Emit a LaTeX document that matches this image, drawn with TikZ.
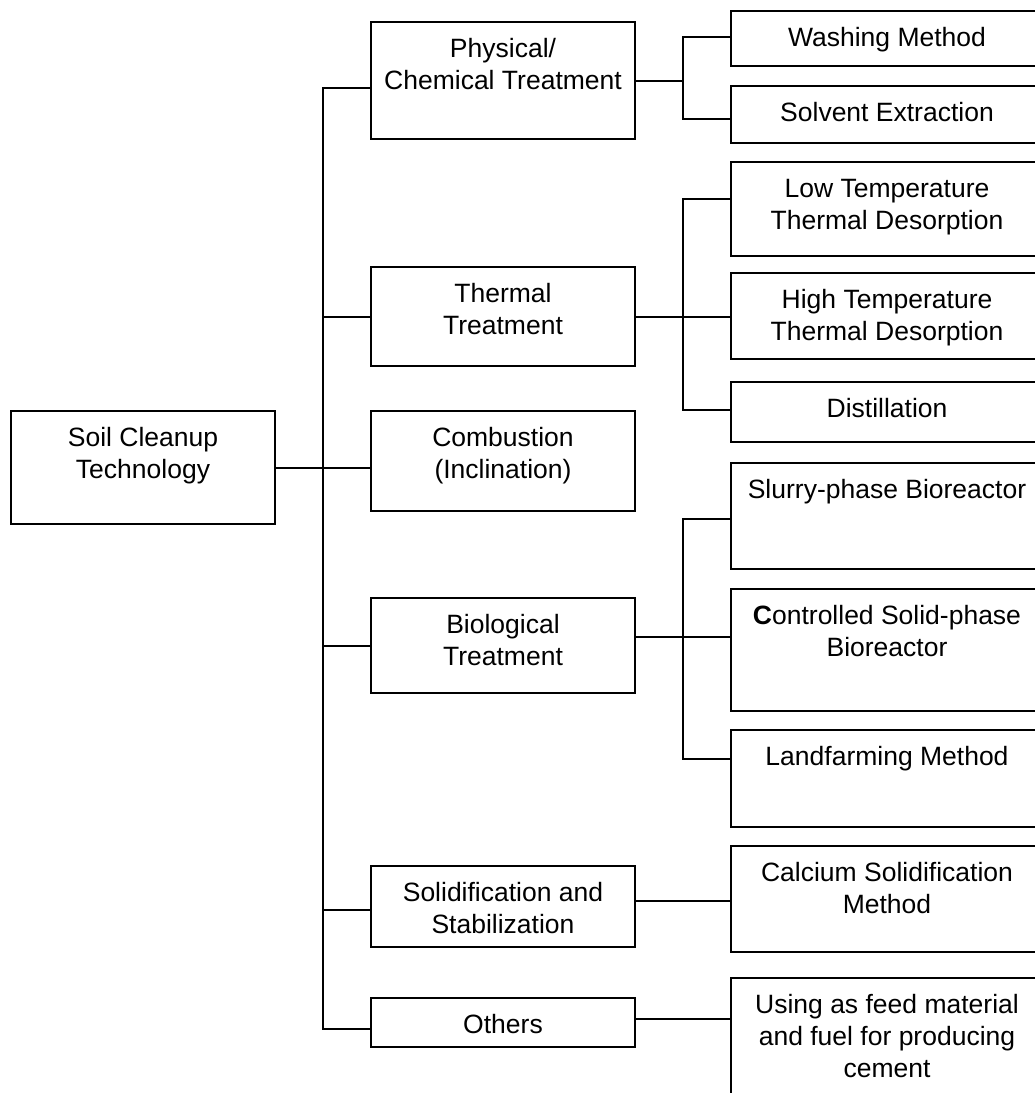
\documentclass[tikz,border=0pt]{standalone}
\usepackage{fontspec}
\setmainfont{Liberation Sans}
\begin{document}
\begin{tikzpicture}[x=1pt,y=-1pt,line width=2pt,
  boxst/.style={draw=black,rectangle,inner sep=0pt,outer sep=0pt,anchor=north west}]
\useasboundingbox (0,0) rectangle (1035,1093);
\clip (0,0) rectangle (1035,1093);
\fontsize{26.5pt}{32pt}\selectfont
% box with text set from its top edge: name, left, top, width, height, text
\newcommand\tbox[6]{%
  \node[boxst,minimum width=#4pt,minimum height=#5pt] (#1) at (#2,#3)
    {\parbox[c][#5pt][t]{#4pt}{\centering\fontsize{26.5pt}{32pt}\selectfont\rule{0pt}{35pt}#6}};}

% root and first level
\tbox{root}{11}{411}{264}{113}{Soil Cleanup\\Technology}
\tbox{phys}{371}{22}{264}{117}{Physical/\\Chemical Treatment}
\tbox{therm}{371}{267}{264}{99}{Thermal\\Treatment}
\tbox{comb}{371}{411}{264}{100}{Combustion\\(Inclination)}
\tbox{bio}{371}{598}{264}{95}{Biological\\Treatment}
\tbox{solid}{371}{866}{264}{81}{Solidification and\\Stabilization}
\tbox{others}{371}{998}{264}{49}{Others}

% second level
\tbox{wash}{731}{11}{312}{55}{Washing Method}
\tbox{solv}{731}{86}{312}{57}{Solvent Extraction}
\tbox{lowt}{731}{162}{312}{94}{Low Temperature\\Thermal Desorption}
\tbox{hight}{731}{273}{312}{86}{High Temperature\\Thermal Desorption}
\tbox{dist}{731}{382}{312}{60}{Distillation}
\tbox{slurry}{731}{463}{312}{106}{Slurry-phase Bioreactor}
\tbox{ctrl}{731}{589}{312}{122}{\textbf{C}ontrolled Solid-phase\\Bioreactor}
\tbox{land}{731}{730}{312}{97}{Landfarming Method}
\tbox{calc}{731}{846}{312}{106}{Calcium Solidification\\Method}
\tbox{using}{731}{978}{312}{130}{Using as feed material\\and fuel for producing\\cement}

% trunk
\coordinate (tt) at (323,88);
\coordinate (tb) at (323,1029);
\coordinate (tsol) at (323,910);
\draw (phys.west|-tt) -| (tb) -- (others.west|-tb);
\draw (tt|-therm.west) -- (therm.west);
\draw (root.east) -- (comb.west|-root.east);
\draw (tt|-bio.west) -- (bio.west);
\draw (tsol) -- (solid.west|-tsol);

% physical/chemical branch
\coordinate (pa) at (683,37);
\coordinate (pb) at (683,119);
\draw (wash.west|-pa) -| (pb) -- (solv.west|-pb);
\draw (phys.east) -- (phys.east-|pa);

% thermal branch
\coordinate (ta) at (683,199);
\coordinate (tz) at (683,410);
\draw (lowt.west|-ta) -| (tz) -- (dist.west|-tz);
\draw (therm.east) -- (hight.west|-therm.east);

% biological branch
\coordinate (ba) at (683,519);
\coordinate (bm) at (683,637);
\coordinate (bz) at (683,759);
\draw (slurry.west|-ba) -| (bz) -- (land.west|-bz);
\draw (bio.east|-bm) -- (ctrl.west|-bm);

% solidification and others
\coordinate (cm) at (683,901);
\coordinate (om) at (683,1019);
\draw (solid.east|-cm) -- (calc.west|-cm);
\draw (others.east|-om) -- (using.west|-om);
\end{tikzpicture}
\end{document}
